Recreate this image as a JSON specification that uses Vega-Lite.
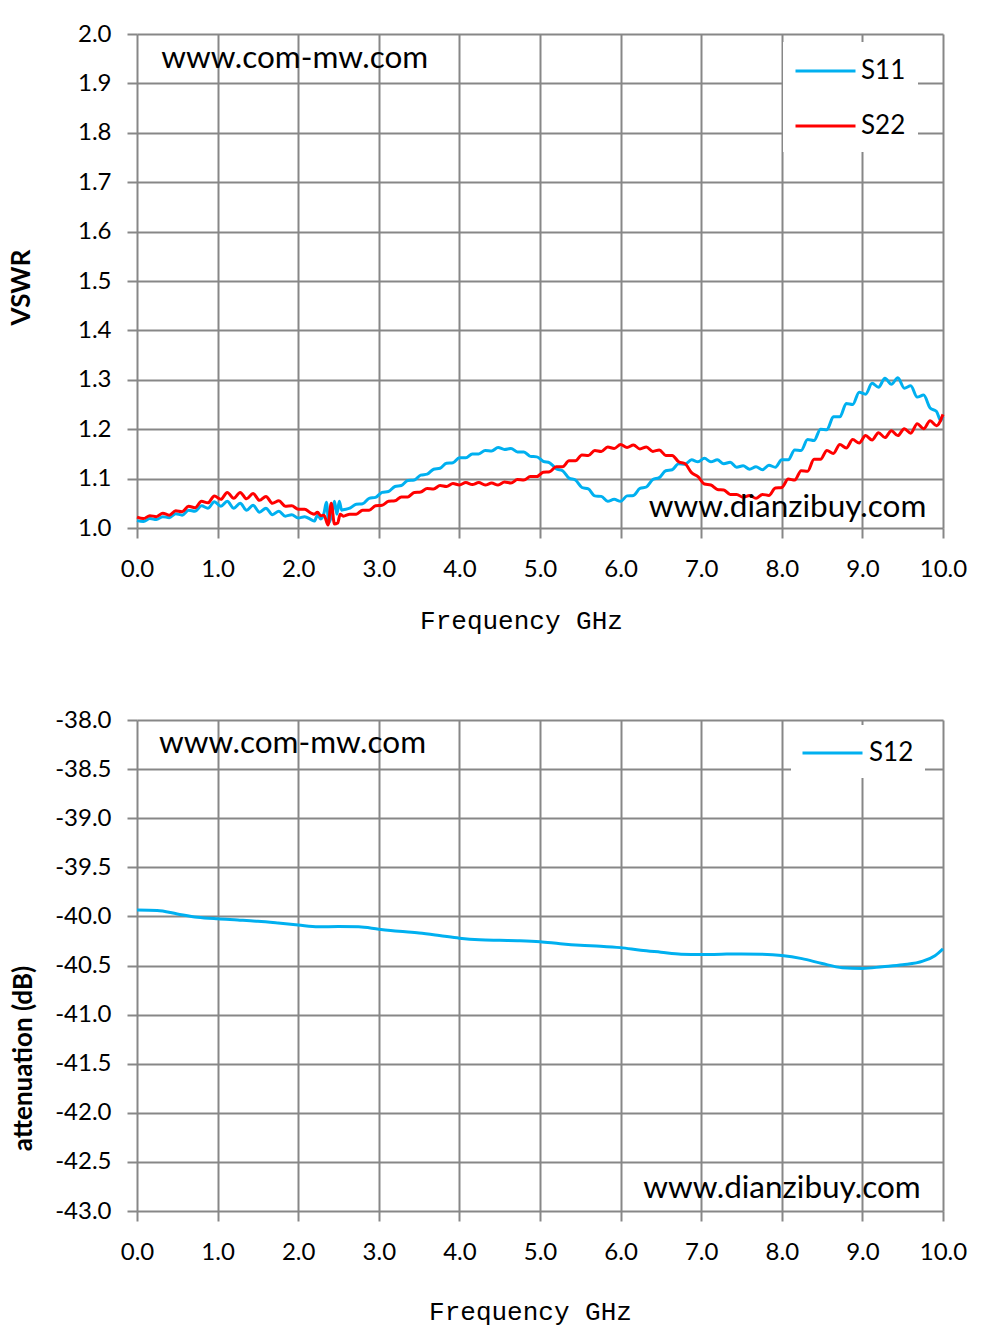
{
  "$schema": "https://vega.github.io/schema/vega-lite/v6.json",
  "background": "white",
  "padding": {"left": 8, "top": 22, "right": 10, "bottom": 5},
  "config": {
    "view": {"stroke": null},
    "font": "Lato",
    "locale": {"number": {"decimal": ".", "thousands": ",", "grouping": [3], "currency": ["", ""], "minus": "-"}},
    "axis": {
      "grid": true, "gridColor": "#878787", "gridWidth": 2, "domain": false,
      "ticks": true, "tickColor": "#878787", "tickWidth": 2, "tickSize": 10,
      "labelFont": "Lato", "labelFontSize": 24, "labelColor": "#000", "labelPadding": 16,
      "titleColor": "#000", "labelFlush": false
    },
    "axisX": {"labelPadding": 19}
  },
  "spacing": 75,
  "resolve": {"scale": {"color": "independent"}, "legend": {"color": "independent"}},
  "vconcat": [
    {
      "width": 806,
      "height": 494,
      "layer": [
        {
          "data": {"values": [
            {"s":"S11","f":0.00,"v":1.015},{"s":"S11","f":0.08,"v":1.013},{"s":"S11","f":0.16,"v":1.019},{"s":"S11","f":0.24,"v":1.017},
            {"s":"S11","f":0.32,"v":1.023},{"s":"S11","f":0.40,"v":1.021},{"s":"S11","f":0.48,"v":1.029},{"s":"S11","f":0.56,"v":1.026},
            {"s":"S11","f":0.64,"v":1.036},{"s":"S11","f":0.72,"v":1.034},{"s":"S11","f":0.80,"v":1.045},{"s":"S11","f":0.88,"v":1.040},
            {"s":"S11","f":0.96,"v":1.053},{"s":"S11","f":1.04,"v":1.044},{"s":"S11","f":1.12,"v":1.054},{"s":"S11","f":1.20,"v":1.040},
            {"s":"S11","f":1.28,"v":1.050},{"s":"S11","f":1.36,"v":1.036},{"s":"S11","f":1.44,"v":1.046},{"s":"S11","f":1.52,"v":1.032},
            {"s":"S11","f":1.60,"v":1.040},{"s":"S11","f":1.68,"v":1.027},{"s":"S11","f":1.76,"v":1.034},{"s":"S11","f":1.84,"v":1.024},
            {"s":"S11","f":1.92,"v":1.027},{"s":"S11","f":2.00,"v":1.020},{"s":"S11","f":2.08,"v":1.023},{"s":"S11","f":2.16,"v":1.017},
            {"s":"S11","f":2.20,"v":1.014},{"s":"S11","f":2.24,"v":1.026},{"s":"S11","f":2.28,"v":1.018},{"s":"S11","f":2.32,"v":1.030},
            {"s":"S11","f":2.35,"v":1.052},{"s":"S11","f":2.38,"v":1.010},{"s":"S11","f":2.42,"v":1.030},{"s":"S11","f":2.45,"v":1.054},
            {"s":"S11","f":2.48,"v":1.028},{"s":"S11","f":2.51,"v":1.054},{"s":"S11","f":2.54,"v":1.036},{"s":"S11","f":2.56,"v":1.037},
            {"s":"S11","f":2.64,"v":1.040},{"s":"S11","f":2.72,"v":1.048},{"s":"S11","f":2.80,"v":1.049},{"s":"S11","f":2.88,"v":1.060},
            {"s":"S11","f":2.96,"v":1.062},{"s":"S11","f":3.04,"v":1.072},{"s":"S11","f":3.12,"v":1.074},{"s":"S11","f":3.20,"v":1.084},
            {"s":"S11","f":3.28,"v":1.086},{"s":"S11","f":3.36,"v":1.096},{"s":"S11","f":3.44,"v":1.097},{"s":"S11","f":3.52,"v":1.107},
            {"s":"S11","f":3.60,"v":1.109},{"s":"S11","f":3.68,"v":1.119},{"s":"S11","f":3.76,"v":1.121},{"s":"S11","f":3.84,"v":1.131},
            {"s":"S11","f":3.92,"v":1.132},{"s":"S11","f":4.00,"v":1.142},{"s":"S11","f":4.08,"v":1.142},{"s":"S11","f":4.16,"v":1.150},
            {"s":"S11","f":4.24,"v":1.150},{"s":"S11","f":4.32,"v":1.157},{"s":"S11","f":4.40,"v":1.156},{"s":"S11","f":4.48,"v":1.163},
            {"s":"S11","f":4.56,"v":1.159},{"s":"S11","f":4.64,"v":1.161},{"s":"S11","f":4.72,"v":1.154},{"s":"S11","f":4.80,"v":1.154},
            {"s":"S11","f":4.88,"v":1.145},{"s":"S11","f":4.96,"v":1.144},{"s":"S11","f":5.04,"v":1.135},{"s":"S11","f":5.12,"v":1.132},
            {"s":"S11","f":5.20,"v":1.120},{"s":"S11","f":5.28,"v":1.116},{"s":"S11","f":5.36,"v":1.101},{"s":"S11","f":5.44,"v":1.097},
            {"s":"S11","f":5.52,"v":1.082},{"s":"S11","f":5.60,"v":1.079},{"s":"S11","f":5.68,"v":1.065},{"s":"S11","f":5.76,"v":1.064},
            {"s":"S11","f":5.84,"v":1.054},{"s":"S11","f":5.92,"v":1.058},{"s":"S11","f":6.00,"v":1.054},{"s":"S11","f":6.08,"v":1.065},
            {"s":"S11","f":6.16,"v":1.066},{"s":"S11","f":6.24,"v":1.080},{"s":"S11","f":6.32,"v":1.083},{"s":"S11","f":6.40,"v":1.098},
            {"s":"S11","f":6.48,"v":1.102},{"s":"S11","f":6.56,"v":1.116},{"s":"S11","f":6.64,"v":1.118},{"s":"S11","f":6.72,"v":1.130},
            {"s":"S11","f":6.80,"v":1.129},{"s":"S11","f":6.88,"v":1.138},{"s":"S11","f":6.96,"v":1.134},{"s":"S11","f":7.04,"v":1.141},
            {"s":"S11","f":7.12,"v":1.134},{"s":"S11","f":7.20,"v":1.138},{"s":"S11","f":7.28,"v":1.130},{"s":"S11","f":7.36,"v":1.133},
            {"s":"S11","f":7.44,"v":1.123},{"s":"S11","f":7.52,"v":1.126},{"s":"S11","f":7.60,"v":1.119},{"s":"S11","f":7.68,"v":1.124},
            {"s":"S11","f":7.76,"v":1.118},{"s":"S11","f":7.84,"v":1.127},{"s":"S11","f":7.92,"v":1.123},{"s":"S11","f":8.00,"v":1.138},
            {"s":"S11","f":8.08,"v":1.138},{"s":"S11","f":8.16,"v":1.158},{"s":"S11","f":8.24,"v":1.157},{"s":"S11","f":8.32,"v":1.179},
            {"s":"S11","f":8.40,"v":1.177},{"s":"S11","f":8.48,"v":1.200},{"s":"S11","f":8.56,"v":1.199},{"s":"S11","f":8.64,"v":1.225},
            {"s":"S11","f":8.72,"v":1.225},{"s":"S11","f":8.80,"v":1.252},{"s":"S11","f":8.88,"v":1.250},{"s":"S11","f":8.96,"v":1.275},
            {"s":"S11","f":9.04,"v":1.271},{"s":"S11","f":9.12,"v":1.293},{"s":"S11","f":9.20,"v":1.285},{"s":"S11","f":9.28,"v":1.303},
            {"s":"S11","f":9.36,"v":1.291},{"s":"S11","f":9.44,"v":1.304},{"s":"S11","f":9.52,"v":1.283},{"s":"S11","f":9.60,"v":1.288},
            {"s":"S11","f":9.68,"v":1.265},{"s":"S11","f":9.76,"v":1.269},{"s":"S11","f":9.84,"v":1.243},{"s":"S11","f":9.92,"v":1.236},
            {"s":"S11","f":9.97,"v":1.218},{"s":"S11","f":10.00,"v":1.226},

            {"s":"S22","f":0.00,"v":1.022},{"s":"S22","f":0.08,"v":1.019},{"s":"S22","f":0.16,"v":1.025},{"s":"S22","f":0.24,"v":1.023},
            {"s":"S22","f":0.32,"v":1.030},{"s":"S22","f":0.40,"v":1.026},{"s":"S22","f":0.48,"v":1.035},{"s":"S22","f":0.56,"v":1.033},
            {"s":"S22","f":0.64,"v":1.044},{"s":"S22","f":0.72,"v":1.041},{"s":"S22","f":0.80,"v":1.054},{"s":"S22","f":0.88,"v":1.051},
            {"s":"S22","f":0.96,"v":1.065},{"s":"S22","f":1.04,"v":1.058},{"s":"S22","f":1.12,"v":1.072},{"s":"S22","f":1.20,"v":1.060},
            {"s":"S22","f":1.28,"v":1.072},{"s":"S22","f":1.36,"v":1.059},{"s":"S22","f":1.44,"v":1.070},{"s":"S22","f":1.52,"v":1.056},
            {"s":"S22","f":1.60,"v":1.064},{"s":"S22","f":1.68,"v":1.050},{"s":"S22","f":1.76,"v":1.055},{"s":"S22","f":1.84,"v":1.044},
            {"s":"S22","f":1.92,"v":1.045},{"s":"S22","f":2.00,"v":1.038},{"s":"S22","f":2.08,"v":1.038},{"s":"S22","f":2.16,"v":1.030},
            {"s":"S22","f":2.20,"v":1.028},{"s":"S22","f":2.24,"v":1.032},{"s":"S22","f":2.28,"v":1.025},{"s":"S22","f":2.32,"v":1.026},
            {"s":"S22","f":2.37,"v":1.006},{"s":"S22","f":2.41,"v":1.050},{"s":"S22","f":2.45,"v":1.008},{"s":"S22","f":2.49,"v":1.010},
            {"s":"S22","f":2.52,"v":1.028},{"s":"S22","f":2.56,"v":1.024},{"s":"S22","f":2.64,"v":1.028},{"s":"S22","f":2.72,"v":1.028},
            {"s":"S22","f":2.80,"v":1.036},{"s":"S22","f":2.88,"v":1.036},{"s":"S22","f":2.96,"v":1.045},{"s":"S22","f":3.04,"v":1.046},
            {"s":"S22","f":3.12,"v":1.054},{"s":"S22","f":3.20,"v":1.055},{"s":"S22","f":3.28,"v":1.063},{"s":"S22","f":3.36,"v":1.063},
            {"s":"S22","f":3.44,"v":1.072},{"s":"S22","f":3.52,"v":1.073},{"s":"S22","f":3.60,"v":1.080},{"s":"S22","f":3.68,"v":1.079},
            {"s":"S22","f":3.76,"v":1.086},{"s":"S22","f":3.84,"v":1.084},{"s":"S22","f":3.92,"v":1.090},{"s":"S22","f":4.00,"v":1.087},
            {"s":"S22","f":4.08,"v":1.092},{"s":"S22","f":4.16,"v":1.088},{"s":"S22","f":4.24,"v":1.092},{"s":"S22","f":4.32,"v":1.087},
            {"s":"S22","f":4.40,"v":1.091},{"s":"S22","f":4.48,"v":1.087},{"s":"S22","f":4.56,"v":1.093},{"s":"S22","f":4.64,"v":1.091},
            {"s":"S22","f":4.72,"v":1.098},{"s":"S22","f":4.80,"v":1.097},{"s":"S22","f":4.88,"v":1.104},{"s":"S22","f":4.96,"v":1.104},
            {"s":"S22","f":5.04,"v":1.113},{"s":"S22","f":5.12,"v":1.114},{"s":"S22","f":5.20,"v":1.124},{"s":"S22","f":5.28,"v":1.124},
            {"s":"S22","f":5.36,"v":1.136},{"s":"S22","f":5.44,"v":1.136},{"s":"S22","f":5.52,"v":1.148},{"s":"S22","f":5.60,"v":1.147},
            {"s":"S22","f":5.68,"v":1.157},{"s":"S22","f":5.76,"v":1.155},{"s":"S22","f":5.84,"v":1.164},{"s":"S22","f":5.92,"v":1.161},
            {"s":"S22","f":6.00,"v":1.169},{"s":"S22","f":6.08,"v":1.163},{"s":"S22","f":6.16,"v":1.168},{"s":"S22","f":6.24,"v":1.160},
            {"s":"S22","f":6.32,"v":1.164},{"s":"S22","f":6.40,"v":1.155},{"s":"S22","f":6.48,"v":1.158},{"s":"S22","f":6.56,"v":1.147},
            {"s":"S22","f":6.64,"v":1.147},{"s":"S22","f":6.72,"v":1.134},{"s":"S22","f":6.80,"v":1.130},{"s":"S22","f":6.88,"v":1.112},
            {"s":"S22","f":6.96,"v":1.104},{"s":"S22","f":7.04,"v":1.089},{"s":"S22","f":7.12,"v":1.087},{"s":"S22","f":7.20,"v":1.078},
            {"s":"S22","f":7.28,"v":1.077},{"s":"S22","f":7.36,"v":1.068},{"s":"S22","f":7.44,"v":1.068},{"s":"S22","f":7.52,"v":1.062},
            {"s":"S22","f":7.60,"v":1.066},{"s":"S22","f":7.68,"v":1.060},{"s":"S22","f":7.76,"v":1.068},{"s":"S22","f":7.84,"v":1.066},
            {"s":"S22","f":7.92,"v":1.081},{"s":"S22","f":8.00,"v":1.082},{"s":"S22","f":8.08,"v":1.099},{"s":"S22","f":8.16,"v":1.097},
            {"s":"S22","f":8.24,"v":1.116},{"s":"S22","f":8.32,"v":1.115},{"s":"S22","f":8.40,"v":1.139},{"s":"S22","f":8.48,"v":1.139},
            {"s":"S22","f":8.56,"v":1.157},{"s":"S22","f":8.64,"v":1.151},{"s":"S22","f":8.72,"v":1.169},{"s":"S22","f":8.80,"v":1.162},
            {"s":"S22","f":8.88,"v":1.179},{"s":"S22","f":8.96,"v":1.172},{"s":"S22","f":9.04,"v":1.187},{"s":"S22","f":9.12,"v":1.178},
            {"s":"S22","f":9.20,"v":1.193},{"s":"S22","f":9.28,"v":1.183},{"s":"S22","f":9.36,"v":1.197},{"s":"S22","f":9.44,"v":1.187},
            {"s":"S22","f":9.52,"v":1.201},{"s":"S22","f":9.60,"v":1.192},{"s":"S22","f":9.68,"v":1.211},{"s":"S22","f":9.76,"v":1.201},
            {"s":"S22","f":9.84,"v":1.217},{"s":"S22","f":9.92,"v":1.207},{"s":"S22","f":10.00,"v":1.230}
          ]},
          "mark": {"type": "line", "strokeWidth": 3, "interpolate": "monotone"},
          "encoding": {
            "x": {"field": "f", "type": "quantitative", "scale": {"domain": [0, 10], "nice": false},
                  "axis": {"values": [0,1,2,3,4,5,6,7,8,9,10], "format": ".1f", "title": "Frequency GHz",
                           "titleFont": "Liberation Mono", "titleFontSize": 26, "titleFontWeight": "normal",
                           "titleX": 384, "titleY": 79}},
            "y": {"field": "v", "type": "quantitative", "scale": {"domain": [1, 2], "nice": false, "zero": false},
                  "axis": {"values": [1,1.1,1.2,1.3,1.4,1.5,1.6,1.7,1.8,1.9,2], "format": ".1f", "title": "VSWR",
                           "titleFontSize": 26, "titleFontWeight": "bold", "titleX": -103, "titleY": 253}},
            "color": {"field": "s", "type": "nominal",
                      "scale": {"domain": ["S11", "S22"], "range": ["#00B0F0", "#FF0000"]},
                      "legend": {"title": null, "orient": "none", "legendX": 646, "legendY": 8, "fillColor": "white",
                                 "padding": 12.5, "symbolType": "M-2,0H2", "symbolSize": 900, "symbolStrokeWidth": 3,
                                 "symbolOffset": 13.5, "symbolFillColor": "transparent",
                                 "labelFont": "Lato", "labelFontSize": 26, "labelColor": "#000", "labelOffset": 19, "rowPadding": 25}}
          }
        },
        {
          "data": {"values": [{}]},
          "mark": {"type": "text", "font": "Lato", "fontSize": 31.5, "align": "left", "baseline": "alphabetic", "fill": "#000"},
          "encoding": {"x": {"datum": 0.3}, "y": {"datum": 1.931}, "text": {"value": "www.com-mw.com"}}
        },
        {
          "data": {"values": [{}]},
          "mark": {"type": "text", "font": "Lato", "fontSize": 31.5, "align": "left", "baseline": "alphabetic", "fill": "#000"},
          "encoding": {"x": {"datum": 6.35}, "y": {"datum": 1.022}, "text": {"value": "www.dianzibuy.com"}}
        }
      ]
    },
    {
      "width": 806,
      "height": 491,
      "layer": [
        {
          "data": {"values": [
            {"s":"S12","f":0.00,"v":-39.936},{"s":"S12","f":0.25,"v":-39.940},{"s":"S12","f":0.50,"v":-39.975},{"s":"S12","f":0.75,"v":-40.008},
            {"s":"S12","f":1.00,"v":-40.025},{"s":"S12","f":1.25,"v":-40.037},{"s":"S12","f":1.50,"v":-40.050},{"s":"S12","f":1.75,"v":-40.068},
            {"s":"S12","f":2.00,"v":-40.088},{"s":"S12","f":2.25,"v":-40.106},{"s":"S12","f":2.50,"v":-40.104},{"s":"S12","f":2.75,"v":-40.106},
            {"s":"S12","f":3.00,"v":-40.130},{"s":"S12","f":3.25,"v":-40.152},{"s":"S12","f":3.50,"v":-40.170},{"s":"S12","f":3.75,"v":-40.195},
            {"s":"S12","f":4.00,"v":-40.222},{"s":"S12","f":4.25,"v":-40.238},{"s":"S12","f":4.50,"v":-40.243},{"s":"S12","f":4.75,"v":-40.247},
            {"s":"S12","f":5.00,"v":-40.257},{"s":"S12","f":5.25,"v":-40.278},{"s":"S12","f":5.50,"v":-40.294},{"s":"S12","f":5.75,"v":-40.303},
            {"s":"S12","f":6.00,"v":-40.318},{"s":"S12","f":6.25,"v":-40.345},{"s":"S12","f":6.50,"v":-40.365},{"s":"S12","f":6.75,"v":-40.385},
            {"s":"S12","f":7.00,"v":-40.389},{"s":"S12","f":7.25,"v":-40.385},{"s":"S12","f":7.50,"v":-40.382},{"s":"S12","f":7.75,"v":-40.385},
            {"s":"S12","f":8.00,"v":-40.398},{"s":"S12","f":8.25,"v":-40.430},{"s":"S12","f":8.50,"v":-40.480},{"s":"S12","f":8.75,"v":-40.522},
            {"s":"S12","f":9.00,"v":-40.530},{"s":"S12","f":9.25,"v":-40.512},{"s":"S12","f":9.50,"v":-40.492},{"s":"S12","f":9.75,"v":-40.455},
            {"s":"S12","f":9.90,"v":-40.400},{"s":"S12","f":10.00,"v":-40.330}
          ]},
          "mark": {"type": "line", "strokeWidth": 3, "interpolate": "monotone"},
          "encoding": {
            "x": {"field": "f", "type": "quantitative", "scale": {"domain": [0, 10], "nice": false},
                  "axis": {"values": [0,1,2,3,4,5,6,7,8,9,10], "format": ".1f", "title": "Frequency GHz",
                           "titleFont": "Liberation Mono", "titleFontSize": 26, "titleFontWeight": "normal",
                           "titleX": 393, "titleY": 87}},
            "y": {"field": "v", "type": "quantitative", "scale": {"domain": [-43, -38], "nice": false, "zero": false},
                  "axis": {"values": [-43,-42.5,-42,-41.5,-41,-40.5,-40,-39.5,-39,-38.5,-38], "format": ".1f", "title": "attenuation (dB)",
                           "titleFontSize": 26, "titleFontWeight": "bold", "titleX": -101, "titleY": 338}},
            "color": {"field": "s", "type": "nominal",
                      "scale": {"domain": ["S12"], "range": ["#00B0F0"]},
                      "legend": {"title": null, "orient": "none", "legendX": 654, "legendY": 5, "fillColor": "white",
                                 "padding": 11.5, "symbolType": "M-2,0H2", "symbolSize": 900, "symbolStrokeWidth": 3,
                                 "symbolOffset": 13.5, "symbolFillColor": "transparent",
                                 "labelFont": "Lato", "labelFontSize": 26, "labelColor": "#000", "labelOffset": 20}}
          }
        },
        {
          "data": {"values": [{}]},
          "mark": {"type": "text", "font": "Lato", "fontSize": 31.5, "align": "left", "baseline": "alphabetic", "fill": "#000"},
          "encoding": {"x": {"datum": 0.273}, "y": {"datum": -38.336}, "text": {"value": "www.com-mw.com"}}
        },
        {
          "data": {"values": [{}]},
          "mark": {"type": "text", "font": "Lato", "fontSize": 31.5, "align": "left", "baseline": "alphabetic", "fill": "#000"},
          "encoding": {"x": {"datum": 6.28}, "y": {"datum": -42.868}, "text": {"value": "www.dianzibuy.com"}}
        }
      ]
    }
  ]
}
